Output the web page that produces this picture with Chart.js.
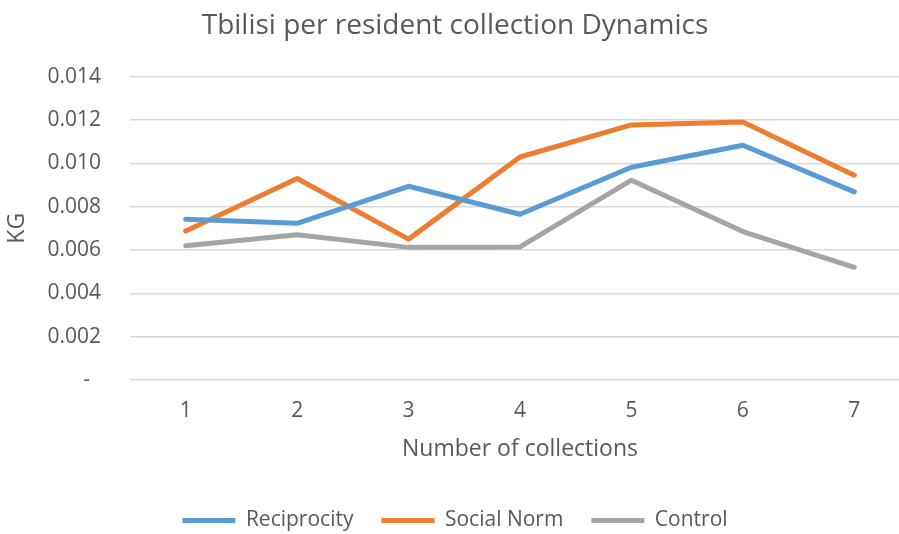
<!DOCTYPE html>
<html>
<head>
<meta charset="utf-8">
<script src="https://cdn.jsdelivr.net/npm/chart.js@4/dist/chart.umd.min.js"></script>
<style>
  html, body { margin: 0; padding: 0; background: #fff; overflow: hidden; }
  #wrap { position: relative; width: 910px; height: 541px; }
</style>
</head>
<body>
<div id="wrap"><canvas id="chart"></canvas></div>
<script>
// Collection rounds and per-resident amounts (kg) for each treatment group
const collections = ['1', '2', '3', '4', '5', '6', '7'];
const reciprocity = [0.00742, 0.00723, 0.00894, 0.00765, 0.00982, 0.01083, 0.00868];
const socialNorm  = [0.00688, 0.00930, 0.00650, 0.01029, 0.01177, 0.01190, 0.00945];
const control     = [0.00619, 0.00670, 0.00612, 0.00614, 0.00922, 0.00685, 0.00520];
const seriesNames = ['Reciprocity', 'Social Norm', 'Control'];
const yTicks = [0, 0.002, 0.004, 0.006, 0.008, 0.010, 0.012, 0.014];

const FONT = "'Open Sans', 'Liberation Sans', sans-serif";
const TEXT = '#595959';
const colors = ['#5B9BD5', '#ED7D31', '#A5A5A5'];

function line(label, data, color) {
  return {
    label, data,
    borderColor: color,
    backgroundColor: color,
    borderWidth: 5,
    borderCapStyle: 'round',
    borderJoinStyle: 'round',
    pointRadius: 0,
    pointHoverRadius: 0,
    pointStyle: 'line',
    tension: 0,
    fill: false
  };
}

new Chart(document.getElementById('chart'), {
  type: 'line',
  data: {
    labels: collections,
    datasets: [
      line(seriesNames[0], reciprocity, colors[0]),
      line(seriesNames[1], socialNorm, colors[1]),
      line(seriesNames[2], control, colors[2])
    ]
  },
  options: {
    responsive: true,
    maintainAspectRatio: false,
    animation: false,
    layout: { padding: 0 },
    plugins: {
      title: {
        display: true,
        text: 'Tbilisi per resident collection Dynamics',
        color: TEXT,
        font: { family: FONT, size: 28, weight: 'normal' },
        padding: { top: 9, bottom: 34 }
      },
      legend: {
        display: true,
        position: 'bottom',
        labels: {
          usePointStyle: true,
          pointStyleWidth: 53,
          boxHeight: 5,
          color: TEXT,
          font: { family: FONT, size: 21 },
          padding: 28
        }
      },
      tooltip: { enabled: false }
    },
    scales: {
      x: {
        offset: true,
        afterFit(scale) { scale.height = 102; },
        grid: { display: false, drawTicks: false },
        border: { display: false },
        ticks: { color: TEXT, font: { family: FONT, size: 21 }, padding: 18 },
        title: {
          display: true,
          text: 'Number of collections',
          color: TEXT,
          font: { family: FONT, size: 23 },
          padding: { top: 12, bottom: 19 }
        }
      },
      y: {
        min: 0,
        max: 0.014,
        afterBuildTicks(scale) { scale.ticks = yTicks.map(v => ({ value: v })); },
        afterFit(scale) { scale.width = 130; },
        grid: { color: '#D9D9D9', lineWidth: 1.5, drawTicks: false },
        border: { display: false },
        ticks: {
          color: TEXT,
          font: { family: FONT, size: 21 },
          padding: 29,
          callback: v => (v === 0 ? '-  ' : v.toFixed(3))
        },
        title: {
          display: true,
          text: 'KG',
          color: TEXT,
          font: { family: FONT, size: 23 },
          padding: { top: 4, bottom: 0 }
        }
      }
    }
  }
});
</script>
</body>
</html>
